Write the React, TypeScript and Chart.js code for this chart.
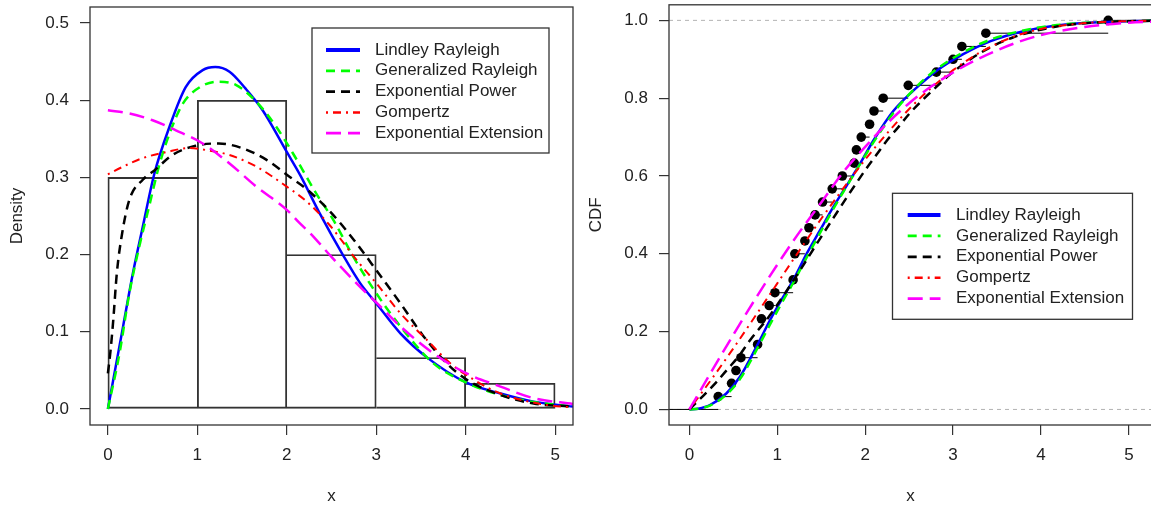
import React, { useEffect, useRef } from 'react';
import { Chart, registerables } from 'chart.js';

Chart.register(...registerables);

const FONT = "'Liberation Sans', Arial, Helvetica, sans-serif";
const TEXT = '#222';

// ---------- legend / series ----------
const seriesNames = ['Lindley Rayleigh', 'Generalized Rayleigh', 'Exponential Power', 'Gompertz', 'Exponential Extension'];
const seriesColors = ['#0000ff', '#00ff00', '#000000', '#ff0000', '#ff00ff'];
const seriesWidths = [2.5, 2.5, 2.5, 2, 2.5];
const legendWidths = [3.8, 2.8, 2.8, 2.5, 2.8];
const seriesDashes = [[], [9, 6], [9, 6], [2, 5, 8, 5], [15, 7]];

// ---------- left panel: histogram + densities ----------
const histBinStart = [0, 1, 2, 3, 4];
const histBinEnd = [1, 2, 3, 4, 5];
const histDensity = [0.3, 0.4, 0.2, 0.0667, 0.0333];

const lindleyPdf = [[0, 0], [0.17, 0.107], [0.28, 0.176], [0.39, 0.236], [0.52, 0.305], [0.69, 0.366], [0.87, 0.417], [1.06, 0.439], [1.2, 0.443], [1.36, 0.437], [1.54, 0.415], [1.73, 0.387], [2.0, 0.333], [2.15, 0.303], [2.37, 0.253], [2.63, 0.199], [2.82, 0.163], [3.0, 0.137], [3.27, 0.098], [3.57, 0.0665], [4.01, 0.034], [4.39, 0.02], [4.76, 0.0095], [5.2, 0.003]];
const genRayleighPdf = [[0, 0], [0.13, 0.072], [0.24, 0.15], [0.35, 0.21], [0.46, 0.262], [0.57, 0.314], [0.69, 0.357], [0.84, 0.396], [1.03, 0.417], [1.23, 0.424], [1.43, 0.42], [1.66, 0.398], [1.88, 0.366], [2.07, 0.331], [2.33, 0.279], [2.52, 0.245], [2.75, 0.196], [3.0, 0.15], [3.27, 0.107], [3.64, 0.059], [4.01, 0.034], [4.39, 0.018], [4.76, 0.009], [5.2, 0.003]];
const expPowerPdf = [[0, 0.046], [0.03, 0.076], [0.06, 0.115], [0.1, 0.176], [0.16, 0.228], [0.24, 0.271], [0.39, 0.297], [0.53, 0.31], [0.72, 0.329], [0.98, 0.341], [1.24, 0.344], [1.5, 0.338], [1.77, 0.323], [2.03, 0.301], [2.22, 0.285], [2.49, 0.255], [2.75, 0.219], [3.0, 0.18], [3.27, 0.137], [3.53, 0.094], [3.79, 0.059], [4.01, 0.038], [4.39, 0.018], [4.76, 0.007], [5.2, 0.003]];
const gompertzPdf = [[0, 0.304], [0.17, 0.314], [0.39, 0.325], [0.66, 0.333], [0.91, 0.338], [1.12, 0.335], [1.36, 0.329], [1.66, 0.314], [2.0, 0.288], [2.22, 0.269], [2.48, 0.238], [2.78, 0.193], [3.0, 0.163], [3.27, 0.124], [3.57, 0.089], [3.83, 0.059], [4.09, 0.038], [4.39, 0.02], [4.91, 0.005], [5.2, 0.002]];
const expExtensionPdf = [[0, 0.387], [0.24, 0.383], [0.5, 0.374], [0.76, 0.361], [1.06, 0.344], [1.36, 0.318], [1.66, 0.288], [2.0, 0.258], [2.15, 0.24], [2.26, 0.228], [2.5, 0.197], [2.89, 0.15], [3.0, 0.138], [3.27, 0.107], [3.64, 0.072], [4.01, 0.046], [4.39, 0.029], [4.76, 0.014], [5.2, 0.0065]];

const leftXTicks = [0, 1, 2, 3, 4, 5];
const leftYTicks = [0, 0.1, 0.2, 0.3, 0.4, 0.5];

// ---------- right panel: empirical CDF + fitted CDFs ----------
const ecdfX = [0.328, 0.48, 0.53, 0.586, 0.776, 0.82, 0.908, 0.973, 1.18, 1.2, 1.314, 1.36, 1.43, 1.515, 1.625, 1.74, 1.875, 1.9, 1.955, 2.05, 2.1, 2.205, 2.49, 2.81, 3.0, 3.1, 3.373, 4.765];
const ecdfY = [0.033, 0.067, 0.1, 0.133, 0.167, 0.233, 0.267, 0.3, 0.333, 0.4, 0.433, 0.467, 0.5, 0.533, 0.567, 0.6, 0.633, 0.667, 0.7, 0.733, 0.767, 0.8, 0.833, 0.867, 0.9, 0.933, 0.967, 1.0];

const lindleyCdf = [[0, 0], [0.1, 0.002], [0.233, 0.011], [0.42, 0.041], [0.575, 0.084], [0.776, 0.167], [0.916, 0.229], [1.067, 0.289], [1.18, 0.332], [1.333, 0.4], [1.485, 0.46], [1.636, 0.52], [1.788, 0.575], [1.94, 0.631], [2.09, 0.69], [2.32, 0.767], [2.585, 0.827], [2.81, 0.87], [3.115, 0.913], [3.42, 0.946], [3.8, 0.972], [4.18, 0.987], [4.75, 0.996], [5.3, 0.999]];
const genRayleighCdf = [[0, 0], [0.1, 0.002], [0.233, 0.01], [0.42, 0.038], [0.575, 0.078], [0.776, 0.158], [0.916, 0.218], [1.067, 0.28], [1.18, 0.325], [1.333, 0.39], [1.485, 0.453], [1.636, 0.515], [1.788, 0.573], [1.94, 0.63], [2.09, 0.685], [2.32, 0.762], [2.585, 0.83], [2.81, 0.874], [3.115, 0.918], [3.42, 0.95], [3.8, 0.974], [4.18, 0.988], [4.75, 0.996], [5.3, 0.999]];
const expPowerCdf = [[0, 0], [0.157, 0.035], [0.31, 0.071], [0.44, 0.105], [0.555, 0.135], [0.69, 0.178], [0.916, 0.242], [1.257, 0.357], [1.447, 0.425], [1.56, 0.465], [1.675, 0.505], [1.79, 0.545], [1.9, 0.582], [2.016, 0.62], [2.13, 0.655], [2.243, 0.69], [2.375, 0.725], [2.51, 0.762], [2.79, 0.825], [2.96, 0.86], [3.3, 0.915], [3.68, 0.956], [4.18, 0.984], [4.75, 0.996], [5.3, 0.999]];
const gompertzCdf = [[0, 0], [0.25, 0.077], [0.5, 0.157], [0.75, 0.24], [1.0, 0.324], [1.25, 0.408], [1.5, 0.49], [1.75, 0.568], [2.0, 0.642], [2.25, 0.71], [2.5, 0.772], [2.75, 0.826], [3.0, 0.872], [3.25, 0.91], [3.5, 0.94], [3.75, 0.963], [4.0, 0.978], [4.5, 0.993], [5.0, 0.998], [5.3, 0.999]];
const expExtensionCdf = [[0, 0], [0.25, 0.097], [0.5, 0.192], [0.75, 0.284], [1.0, 0.372], [1.25, 0.455], [1.5, 0.532], [1.75, 0.61], [2.0, 0.675], [2.25, 0.735], [2.5, 0.787], [2.75, 0.83], [3.0, 0.866], [3.25, 0.897], [3.5, 0.923], [3.75, 0.945], [4.0, 0.962], [4.5, 0.983], [5.0, 0.994], [5.3, 0.997]];

const rightXTicks = [0, 1, 2, 3, 4, 5];
const rightYTicks = [0, 0.2, 0.4, 0.6, 0.8, 1.0];
const refLines = [0, 1];

const pdfSeries = [lindleyPdf, genRayleighPdf, expPowerPdf, gompertzPdf, expExtensionPdf];
const cdfSeries = [lindleyCdf, genRayleighCdf, expPowerCdf, gompertzCdf, expExtensionCdf];

// ---------- helpers ----------
function curveDatasets(series: number[][][], xMax: number) {
  return series.map((pts, i) => ({
    type: 'line' as const,
    data: pts.filter((p) => p[0] <= xMax + 0.2).map(([x, y]) => ({ x, y })),
    borderColor: seriesColors[i],
    borderWidth: seriesWidths[i],
    borderDash: seriesDashes[i],
    pointRadius: 0,
    fill: false,
    cubicInterpolationMode: 'monotone' as const,
    order: 5 - i,
  }));
}

const boxPlugin = {
  id: 'rbox',
  afterDatasetsDraw(chart: any) {
    const { ctx, chartArea: a } = chart;
    ctx.save();
    ctx.strokeStyle = '#333';
    ctx.lineWidth = 1.3;
    ctx.strokeRect(a.left, a.top, a.right - a.left, a.bottom - a.top);
    ctx.restore();
  },
};

function makeLegendPlugin(box: { x: number; y: number; w: number; h: number; lineX0: number; lineX1: number; textX: number; row0: number; rowGap: number }) {
  return {
    id: 'rlegend',
    afterDraw(chart: any) {
      const ctx = chart.ctx;
      ctx.save();
      ctx.fillStyle = '#fff';
      ctx.fillRect(box.x, box.y, box.w, box.h);
      ctx.strokeStyle = '#333';
      ctx.lineWidth = 1.3;
      ctx.strokeRect(box.x, box.y, box.w, box.h);
      ctx.font = `17px ${FONT}`;
      ctx.textBaseline = 'middle';
      ctx.textAlign = 'left';
      seriesNames.forEach((name, i) => {
        const cy = box.y + box.row0 + i * box.rowGap;
        ctx.beginPath();
        ctx.setLineDash(seriesDashes[i]);
        ctx.strokeStyle = seriesColors[i];
        ctx.lineWidth = legendWidths[i];
        ctx.moveTo(box.lineX0, cy);
        ctx.lineTo(box.lineX1, cy);
        ctx.stroke();
        ctx.setLineDash([]);
        ctx.fillStyle = TEXT;
        ctx.fillText(name, box.textX, cy);
      });
      ctx.restore();
    },
  };
}

function axisX(min: number, max: number, ticks: number[], height: number) {
  return {
    type: 'linear' as const,
    min,
    max,
    offset: false,
    grid: { offset: false, drawOnChartArea: false, drawTicks: true, tickLength: 10, color: '#333', lineWidth: 1.2 },
    border: { display: false },
    ticks: { font: { family: FONT, size: 17 }, color: TEXT, padding: 10, maxRotation: 0, autoSkip: false, callback: (v: any) => String(v) },
    title: { display: true, text: 'x', font: { family: FONT, size: 17 }, color: TEXT, padding: { top: 0, bottom: 0 } },
    afterBuildTicks: (s: any) => { s.ticks = ticks.map((v) => ({ value: v })); },
    afterFit: (s: any) => { s.height = height; s.paddingLeft = 0; s.paddingRight = 0; s.paddingTop = 0; s.paddingBottom = 0; },
  };
}

function axisY(min: number, max: number, ticks: number[], width: number, title: string, titlePad: number) {
  return {
    type: 'linear' as const,
    min,
    max,
    grid: { drawOnChartArea: false, drawTicks: true, tickLength: 10, color: '#333', lineWidth: 1.2 },
    border: { display: false },
    ticks: { font: { family: FONT, size: 17 }, color: TEXT, padding: 11, autoSkip: false, callback: (v: any) => Number(v).toFixed(1) },
    title: { display: true, text: title, font: { family: FONT, size: 17 }, color: TEXT, padding: { top: titlePad, bottom: 0 } },
    afterBuildTicks: (s: any) => { s.ticks = ticks.map((v) => ({ value: v })); },
    afterFit: (s: any) => { s.width = width; s.paddingLeft = 0; s.paddingRight = 0; s.paddingTop = 0; s.paddingBottom = 0; },
  };
}

export default function App() {
  const leftRef = useRef<HTMLCanvasElement | null>(null);
  const rightRef = useRef<HTMLCanvasElement | null>(null);

  useEffect(() => {
    const leftXMin = -0.2, leftXMax = 5.2;
    const leftYMin = -0.0208, leftYMax = 0.5208;
    const rightXMin = -0.232, rightXMax = 5.263;
    const rightYMin = -0.04, rightYMax = 1.04;

    const histData = histBinStart.map((s, i) => ({ x: (s + histBinEnd[i]) / 2, y: histDensity[i] }));

    // shared bin edges are drawn once: the shorter neighbour skips its side
    const skipSide = (c: any) => {
      const i = c.dataIndex;
      const prev = i > 0 ? histDensity[i - 1] : -1;
      const next = i < histDensity.length - 1 ? histDensity[i + 1] : -1;
      if (prev >= histDensity[i]) return 'left';
      if (next > histDensity[i]) return 'right';
      return false;
    };

    const left = new Chart(leftRef.current as HTMLCanvasElement, {
      type: 'bar',
      data: {
        datasets: [
          {
            type: 'bar',
            data: histData,
            backgroundColor: 'rgba(0,0,0,0)',
            borderColor: '#333',
            borderWidth: 1.2,
            borderSkipped: skipSide,
            barPercentage: 1,
            categoryPercentage: 1,
            grouped: false,
            order: 10,
          } as any,
          ...(curveDatasets(pdfSeries, leftXMax) as any[]),
        ],
      },
      options: {
        animation: false,
        responsive: false,
        events: [],
        layout: { padding: { left: 0, top: 7, right: 7, bottom: 0 } },
        plugins: { legend: { display: false }, tooltip: { enabled: false } },
        scales: {
          x: axisX(leftXMin, leftXMax, leftXTicks, 82) as any,
          y: axisY(leftYMin, leftYMax, leftYTicks, 90, 'Density', 7) as any,
        },
      },
      plugins: [boxPlugin, makeLegendPlugin({ x: 312, y: 28, w: 237, h: 125, lineX0: 326, lineX1: 360, textX: 375, row0: 22, rowGap: 20.8 })],
    });

    // ECDF horizontal segments (no verticals), built from the ecdf arrays
    const segs: any[] = [{ x: rightXMin, y: 0 }, { x: ecdfX[0], y: 0 }, { x: ecdfX[0], y: null }];
    ecdfX.forEach((x, i) => {
      const nextX = i < ecdfX.length - 1 ? ecdfX[i + 1] : rightXMax;
      segs.push({ x, y: ecdfY[i] }, { x: nextX, y: ecdfY[i] }, { x: nextX, y: null });
    });

    const right = new Chart(rightRef.current as HTMLCanvasElement, {
      type: 'line',
      data: {
        datasets: [
          ...refLines.map((v) => ({
            type: 'line',
            data: [{ x: rightXMin, y: v }, { x: rightXMax, y: v }],
            borderColor: '#b3b3b3',
            borderWidth: 1,
            borderDash: [4, 4],
            pointRadius: 0,
            order: 30,
          })),
          {
            type: 'line',
            data: segs,
            borderColor: '#000',
            borderWidth: 1,
            pointRadius: 0,
            spanGaps: false,
            order: 20,
          },
          {
            type: 'line',
            data: ecdfX.map((x, i) => ({ x, y: ecdfY[i] })),
            showLine: false,
            pointRadius: 4.8,
            pointBackgroundColor: '#000',
            pointBorderColor: '#000',
            pointBorderWidth: 0,
            order: 15,
          },
          ...curveDatasets(cdfSeries, rightXMax),
        ] as any[],
      },
      options: {
        animation: false,
        responsive: false,
        events: [],
        layout: { padding: { left: 0, top: 3, right: 8, bottom: 0 } },
        plugins: { legend: { display: false }, tooltip: { enabled: false } },
        scales: {
          x: axisX(rightXMin, rightXMax, rightXTicks, 82) as any,
          y: axisY(rightYMin, rightYMax, rightYTicks, 89, 'CDF', 6) as any,
        },
      },
      plugins: [boxPlugin, makeLegendPlugin({ x: 312.5, y: 193.3, w: 240, h: 126, lineX0: 327.7, lineX1: 360.5, textX: 376, row0: 21.7, rowGap: 20.9 })],
    });

    return () => {
      left.destroy();
      right.destroy();
    };
  }, []);

  return (
    <div style={{ position: 'absolute', left: 0, top: 0, width: 1151, height: 507, overflow: 'hidden', background: '#fff' }}>
      <canvas ref={leftRef} width={580} height={507} style={{ position: 'absolute', left: 0, top: 0, width: 580, height: 507 }} />
      <canvas ref={rightRef} width={580} height={507} style={{ position: 'absolute', left: 580, top: 0, width: 580, height: 507 }} />
    </div>
  );
}
